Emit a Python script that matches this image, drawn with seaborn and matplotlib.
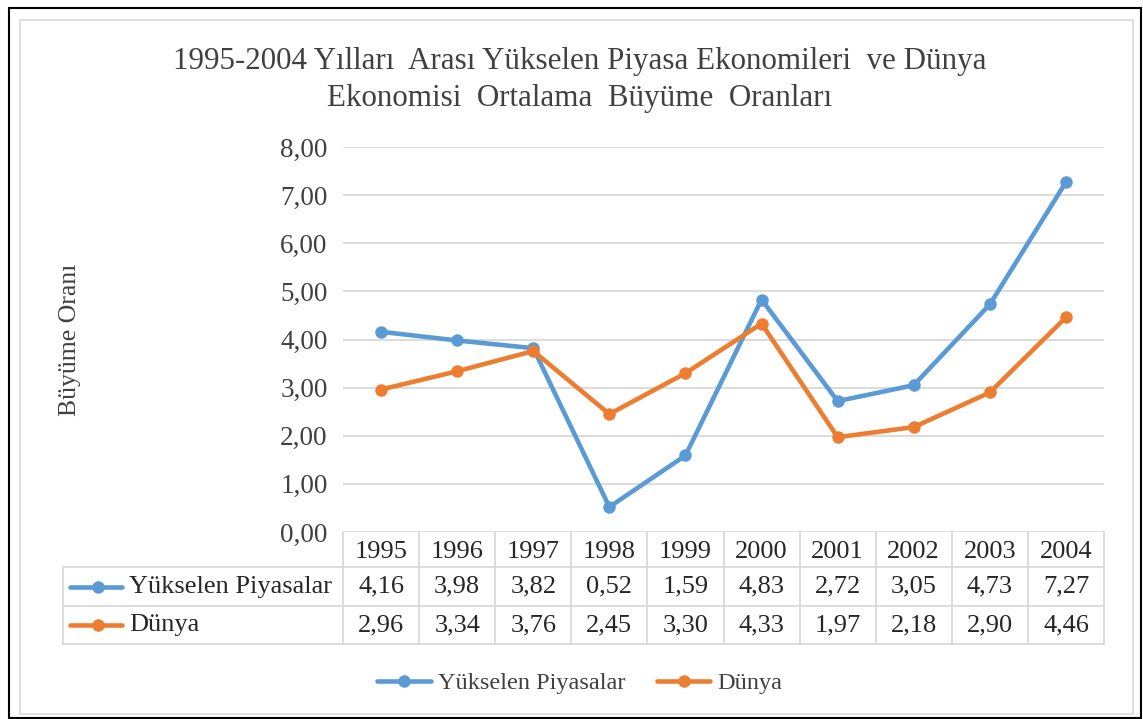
import numpy as np
import pandas as pd
import seaborn as sns
import matplotlib.pyplot as plt
import matplotlib.transforms as mtransforms
from matplotlib.lines import Line2D
from matplotlib.patches import Rectangle

# veriler
years = ['1995', '1996', '1997', '1998', '1999', '2000', '2001', '2002', '2003', '2004']
yukselen = [4.16, 3.98, 3.82, 0.52, 1.59, 4.83, 2.72, 3.05, 4.73, 7.27]
dunya = [2.96, 3.34, 3.76, 2.45, 3.30, 4.33, 1.97, 2.18, 2.90, 4.46]
series_names = ['Yükselen Piyasalar', 'Dünya']
colors = ['#5b9bd5', '#ed7d31']
y_ticks = [0, 1, 2, 3, 4, 5, 6, 7, 8]

title_text = ('1995-2004 Yılları  Arası Yükselen Piyasa Ekonomileri  ve Dünya\n'
              'Ekonomisi  Ortalama  Büyüme  Oranları')
ylabel_text = 'Büyüme Oranı'

df = pd.DataFrame({
    'Yıl': years * 2,
    'Değer': yukselen + dunya,
    'Seri': [series_names[0]] * len(years) + [series_names[1]] * len(years),
})

sns.set_style('white')
plt.rcParams['font.family'] = ['Liberation Serif', 'DejaVu Serif']
TXT = '#404040'
TBL = '#262626'

W, H = 1143, 719
fig = plt.figure(figsize=(W / 100, H / 100), dpi=100)


def fx(px):
    return px / W


def fy(py):
    return 1 - py / H


# cerceveler
fig.patches.append(Rectangle((fx(9), fy(718)), fx(1141) - fx(9), fy(8) - fy(718),
                             transform=fig.transFigure, fill=False, ec='black', lw=1.5))
fig.patches.append(Rectangle((fx(20), fy(714)), fx(1133) - fx(20), fy(20) - fy(714),
                             transform=fig.transFigure, fill=False, ec='#d9d9d9', lw=1.2))

# grafik alani
L, R, T, B = 343, 1104, 147, 532
ax = fig.add_axes([fx(L), fy(B), fx(R) - fx(L), fy(T) - fy(B)])
sns.lineplot(data=df, x='Yıl', y='Değer', hue='Seri', palette=colors, marker='o',
             markersize=9, markeredgewidth=0, linewidth=3.3, ax=ax, legend=True,
             sort=False)
ax.set_xlim(-0.5, len(years) - 0.5)
ax.set_ylim(0, 8)
ax.set_yticks(y_ticks)
ax.set_yticklabels(['{:.2f}'.format(t).replace('.', ',') for t in y_ticks],
                   fontsize=19.5, color=TXT)
ax.tick_params(axis='y', length=0, pad=11)
ax.set_xticks([])
ax.set_xlabel('')
ax.set_ylabel('')
ax.grid(axis='y', color='#d9d9d9', lw=1.3)
for s in ax.spines.values():
    s.set_visible(False)

handles, labels = ax.get_legend_handles_labels()
ax.get_legend().remove()

fig.text(fx(580), fy(80), title_text, ha='center', va='center', fontsize=22.3,
         color=TXT, linespacing=1.4)
fig.text(fx(70), fy(340), ylabel_text, ha='center', va='center', rotation=90,
         fontsize=18.5, color=TXT)

# veri tablosu
tr = mtransforms.blended_transform_factory(ax.transData, ax.transAxes)
ph = B - T
row_y = [0, -(567 - B) / ph, -(606 - B) / ph, -(644 - B) / ph]
x_left = (63 - L) / ((R - L) / len(years)) - 0.5
gc = '#d9d9d9'
for y in row_y[1:]:
    ax.plot([x_left, len(years) - 0.5], [y, y], transform=tr, color=gc, lw=1.3,
            clip_on=False)
ax.plot([x_left, x_left], [row_y[1], row_y[3]], transform=tr, color=gc, lw=1.3,
        clip_on=False)
for i in range(len(years) + 1):
    ax.plot([i - 0.5, i - 0.5], [0, row_y[3]], transform=tr, color=gc, lw=1.3,
            clip_on=False)

for i, yr in enumerate(years):
    ax.text(i, (row_y[0] + row_y[1]) / 2 - 0.006, yr, transform=tr, ha='center',
            va='center', fontsize=19, color=TBL)
for r, vals in enumerate([yukselen, dunya]):
    yc = (row_y[r + 1] + row_y[r + 2]) / 2
    for i, v in enumerate(vals):
        ax.text(i, yc, '{:.2f}'.format(v).replace('.', ','), transform=tr,
                ha='center', va='center', fontsize=19, color=TBL)
    # tablo anahtari
    ax.plot([x_left + 0.09, x_left + 0.77], [yc, yc], transform=tr, color=colors[r],
            lw=3.3, clip_on=False, solid_capstyle='round')
    ax.plot([x_left + 0.46], [yc], transform=tr, color=colors[r], marker='o',
            markersize=9, markeredgewidth=0, clip_on=False)
    ax.text(x_left + 0.87, yc, series_names[r], transform=tr, ha='left', va='center',
            fontsize=19, color=TBL)

fig.legend(handles, labels, loc='center', bbox_to_anchor=(fx(580), fy(683)), ncol=2,
           frameon=False, fontsize=17.5, handlelength=2.2, columnspacing=1.3,
           labelcolor=TXT, handletextpad=0.3)

fig.savefig('out.png', dpi=100)
